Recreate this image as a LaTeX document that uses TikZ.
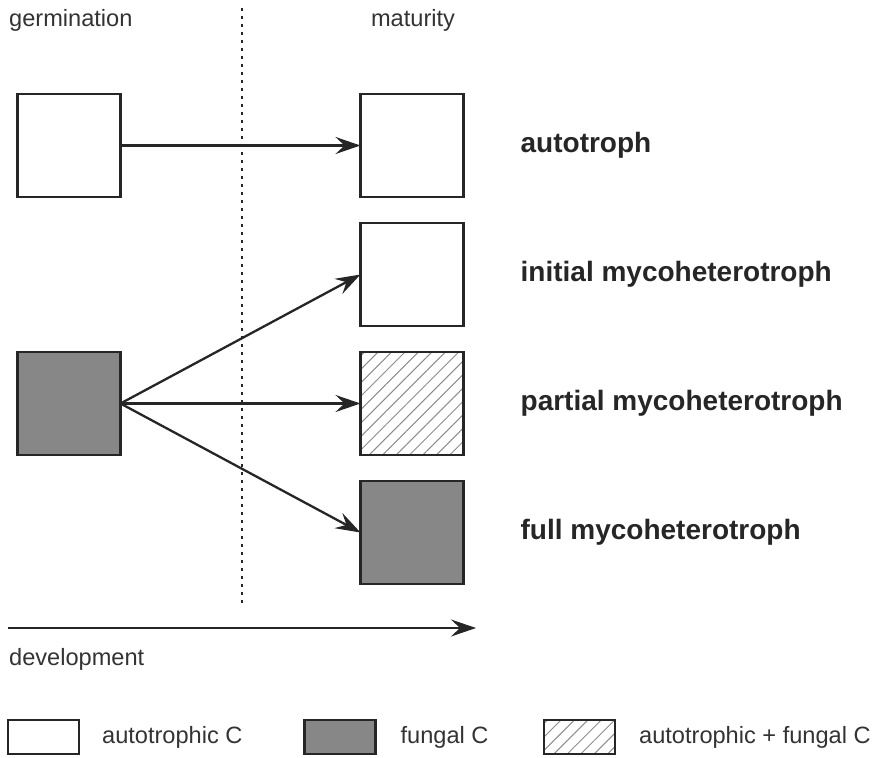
\documentclass[tikz,border=0pt]{standalone}
\usepackage{fontspec}
\setmainfont{Liberation Sans}
\usetikzlibrary{positioning,arrows.meta,patterns.meta}

\begin{document}
\begin{tikzpicture}[x=1pt, y=-1pt, ->, >={Stealth[length=25pt,width=17pt,inset=9pt]}, line width=2.3pt, draw=black!85,
  box node/.style={draw=black!85, line width=2.6pt, minimum size=103pt, inner sep=0pt, outer sep=0pt},
  fungal node/.style={box node, fill=black!47},
  mixed node/.style={box node, pattern={Lines[angle=45,distance=9.5pt,line width=1pt]}, pattern color=black!45},
  key node/.style={draw=black!85, line width=2.6pt, minimum width=71pt, minimum height=34pt, inner sep=0pt, outer sep=0pt},
  type node/.style={font=\fontsize{28}{32}\selectfont\bfseries, inner sep=0pt, anchor=west, text=black!85}]
        \tikzstyle{every node}=[font=\fontsize{23.6}{28}\selectfont, text=black!80]
        \useasboundingbox (0,0) rectangle (872,757);

          % stages
          \node[anchor=base west, inner sep=0pt] (germ) at (8,27) {germination};
          \node[anchor=base, inner sep=0pt] (mat) at (413,27) {maturity};
          \coordinate (top) at (242,8);
          \coordinate (bottom) at (242,603);
          \draw[-, line width=2.2pt, dash pattern=on 3pt off 5pt] (top) -- (bottom);

          % plants
          \node[box node] (1) at (69,145.5) {};
          \node[box node] (2) [right=240pt of 1] {};
          \node[box node] (3) [below=26pt of 2] {};
          \node[mixed node] (4) [below=26pt of 3] {};
          \node[fungal node] (5) [below=26pt of 4] {};
          \node[fungal node] (6) [left=240pt of 4] {};

          \node[type node] (t2) [right=56pt of 2] {autotroph};
          \node[type node] (t3) [right=56pt of 3] {initial mycoheterotroph};
          \node[type node] (t4) [right=56pt of 4] {partial mycoheterotroph};
          \node[type node] (t5) [right=56pt of 5] {full mycoheterotroph};

          \path
            (1) edge (2)
            (6.east) edge (3.west)
            (6.east) edge (4.west)
            (6.east) edge (5.west);

          % development axis
          \coordinate (dev start) at (8,628);
          \coordinate (dev end) at (476,628);
          \draw (dev start) -- (dev end);
          \node[anchor=base west, inner sep=0pt] (dev) at (8,665) {development};

          % key
          \node[key node] (k1) at (43.5,737) {};
          \node[key node, fill=black!47] (k2) at (340,737) {};
          \node[key node, pattern={Lines[angle=45,distance=9.5pt,line width=1pt]}, pattern color=black!45] (k3) at (579.5,737) {};
          \node[inner sep=0pt, anchor=west] (l1) [right=22pt of k1] {autotrophic C};
          \node[inner sep=0pt, anchor=west] (l2) [right=24pt of k2] {fungal C};
          \node[inner sep=0pt, anchor=west] (l3) [right=23pt of k3] {autotrophic + fungal C};

\end{tikzpicture}
\end{document}
